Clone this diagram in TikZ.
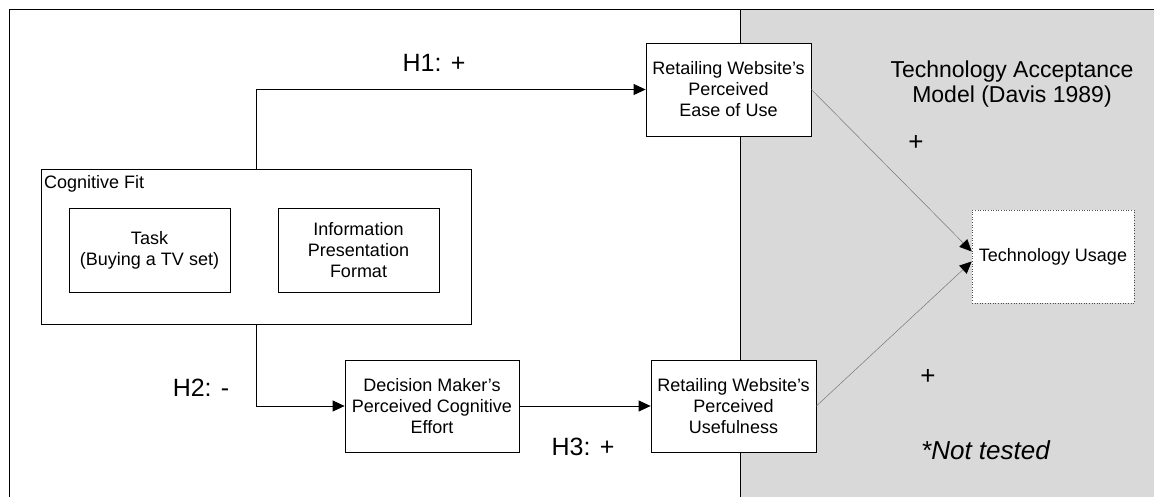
\documentclass[tikz,border=0pt]{standalone}
\usepackage{fontspec}
\setmainfont{Liberation Sans}
\usetikzlibrary{arrows.meta,calc}

\definecolor{panelgray}{RGB}{217,217,217}
\definecolor{thinlink}{RGB}{120,120,120}

\tikzset{
  box/.style={draw=black, line width=0.8pt, fill=white, inner sep=0pt,
    align=center, font=\fontsize{18}{21}\selectfont},
  dotbox/.style={draw=black!70, line width=0.6pt, dotted, fill=white, inner sep=0pt,
    align=center, font=\fontsize{18}{21}\selectfont},
  link/.style={line width=0.8pt, -{Triangle[length=12pt,width=11pt]}},
  tamlink/.style={draw=thinlink, line width=0.5pt, -{Triangle[length=12pt,width=11pt,color=black]}},
  hlabel/.style={font=\fontsize{25}{28}\selectfont, inner sep=0pt},
  plus/.style={font=\fontsize{26}{28}\selectfont, inner sep=0pt},
  note/.style={font=\fontsize{23}{25}\selectfont, inner sep=0pt, align=center},
}

\begin{document}
\begin{tikzpicture}[x=1pt,y=-1pt]
\useasboundingbox (0,0) rectangle (1154,496);

% shaded Technology Acceptance Model area
\fill[panelgray] (740,9.5) rectangle (1160,500);
\begin{scope}
  \clip (0,0) rectangle (1154,496);
  \draw[line width=0.8pt] (9.5,500) -- (9.5,9.5) -- (1160,9.5);
  \draw[line width=0.8pt] (740,9.5) -- (740,500);
\end{scope}

% cognitive fit group
\node[box, minimum width=430pt, minimum height=155pt] (cf) at (256,246.5) {};
\node[anchor=west, inner sep=0pt, font=\fontsize{18}{21}\selectfont] (cflabel) at (44,184) {Cognitive Fit};
\node[box, minimum width=161pt, minimum height=84pt] (task) at (149.5,250) {Task\\(Buying a TV set)};
\node[box, minimum width=161pt, minimum height=84pt] (info) at (358.5,250) {Information\\Presentation\\Format};

% constructs
\node[box, minimum width=165pt, minimum height=93pt] (peou) at (728.5,89.5) {Retailing Website's\\Perceived\\Ease of Use};
\node[box, minimum width=174pt, minimum height=92pt] (dec) at (432,406) {Decision Maker's\\Perceived Cognitive\\Effort};
\node[box, minimum width=165pt, minimum height=92pt] (pu) at (733.5,406) {Retailing Website's\\Perceived\\Usefulness};
\node[dotbox, minimum width=162pt, minimum height=93pt] (tu) at (1053,256.5) {Technology Usage};

% hypotheses
\draw[link] (cf.north) |- (peou.west);
\draw[link] (cf.south) |- (dec.west);
\draw[link] (dec.east) -- (pu.west);

% TAM links
\draw[tamlink] (peou.east) -- ($(tu.west)+(0,-5)$);
\draw[tamlink] (pu.east) -- ($(tu.west)+(0,5)$);

% labels
\node[hlabel] (h1) at (434,63) {H1: +};
\node[hlabel] (h2) at (201,388) {H2: -};
\node[hlabel] (h3) at (583,447) {H3: +};
\node[note] (tam) at (1012,84.5) {Technology Acceptance\\Model (Davis 1989)};
\node[plus] (p1) at (916,143) {+};
\node[plus] (p2) at (928,377) {+};
\node[anchor=west, inner sep=0pt, font=\fontsize{26}{28}\selectfont\itshape] (nt) at (921,450) {*Not tested};
\end{tikzpicture}
\end{document}
